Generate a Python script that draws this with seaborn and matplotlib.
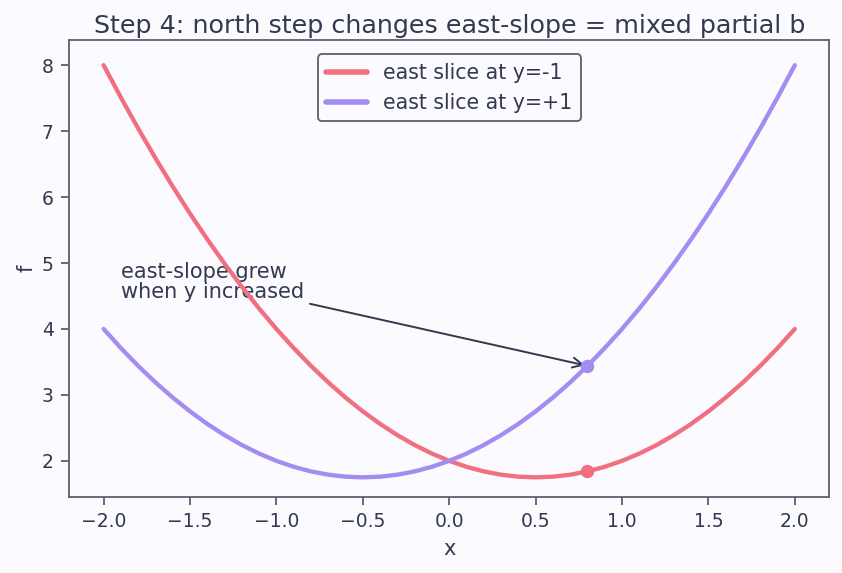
import matplotlib
matplotlib.use("Agg")
import matplotlib.pyplot as plt
import seaborn as sns
import pandas as pd

# values
x_vals = [-2.0, -1.9, -1.8, -1.7, -1.6, -1.5, -1.4, -1.3, -1.2, -1.1, -1.0,
          -0.9, -0.8, -0.7, -0.6, -0.5, -0.4, -0.3, -0.2, -0.1, 0.0,
          0.1, 0.2, 0.3, 0.4, 0.5, 0.6, 0.7, 0.8, 0.9, 1.0,
          1.1, 1.2, 1.3, 1.4, 1.5, 1.6, 1.7, 1.8, 1.9, 2.0]
f_south = [8.00, 7.51, 7.04, 6.59, 6.16, 5.75, 5.36, 4.99, 4.64, 4.31, 4.00,
           3.71, 3.44, 3.19, 2.96, 2.75, 2.56, 2.39, 2.24, 2.11, 2.00,
           1.91, 1.84, 1.79, 1.76, 1.75, 1.76, 1.79, 1.84, 1.91, 2.00,
           2.11, 2.24, 2.39, 2.56, 2.75, 2.96, 3.19, 3.44, 3.71, 4.00]
f_north = [4.00, 3.71, 3.44, 3.19, 2.96, 2.75, 2.56, 2.39, 2.24, 2.11, 2.00,
           1.91, 1.84, 1.79, 1.76, 1.75, 1.76, 1.79, 1.84, 1.91, 2.00,
           2.11, 2.24, 2.39, 2.56, 2.75, 2.96, 3.19, 3.44, 3.71, 4.00,
           4.31, 4.64, 4.99, 5.36, 5.75, 6.16, 6.59, 7.04, 7.51, 8.00]
point_x = 0.8
point_south = 1.84
point_north = 3.44
series_names = ["east slice at y=-1", "east slice at y=+1"]

text_col = "#333a4d"
bg = "#fafaff"
red = "#f07080"
purple = "#a48cf0"

sns.set_theme(style="white")
plt.rcParams["font.family"] = ["DejaVu Sans"]
plt.rcParams["text.color"] = text_col
plt.rcParams["axes.labelcolor"] = text_col
plt.rcParams["xtick.color"] = text_col
plt.rcParams["ytick.color"] = text_col

df = pd.DataFrame({"x": x_vals + x_vals,
                   "f": f_south + f_north,
                   "slice": [series_names[0]] * len(x_vals) + [series_names[1]] * len(x_vals)})

fig, ax = plt.subplots(figsize=(8.42, 5.73), dpi=100)
fig.patch.set_facecolor(bg)
ax.set_facecolor(bg)

sns.lineplot(data=df, x="x", y="f", hue="slice", palette=[red, purple],
             linewidth=3.1, ax=ax, sort=False)
ax.scatter([point_x], [point_south], color=red, s=75, zorder=4)
ax.scatter([point_x], [point_north], color=purple, s=75, zorder=4)

ax.annotate("east-slope grew\nwhen y increased", xy=(point_x, point_north),
            xytext=(-1.9, 4.47), fontsize=15, color=text_col, zorder=1,
            linespacing=1.0,
            arrowprops=dict(arrowstyle="->", color=text_col, lw=1.4,
                            mutation_scale=18))

ax.set_title("Step 4: north step changes east-slope = mixed partial b",
             fontsize=18.3, color=text_col, pad=5)
ax.set_xlabel("x", fontsize=15, labelpad=6)
ax.set_ylabel("f", fontsize=15, labelpad=4)
ax.tick_params(axis="both", labelsize=13.5, length=6, width=1.3, pad=5,
               bottom=True, left=True, color="#5a5f6e")
for sp in ax.spines.values():
    sp.set_color("#5a5f6e")
    sp.set_linewidth(1.3)
ax.set_xlim(-2.2, 2.2)
ax.set_ylim(1.455, 8.38)

leg = ax.legend(loc="upper center", fontsize=14.8, frameon=True, facecolor=bg,
                edgecolor="#5a5f6e", fancybox=True, framealpha=1,
                borderaxespad=0.7)
leg.get_frame().set_linewidth(1.3)
for line in leg.get_lines():
    line.set_linewidth(4)
for t in leg.get_texts():
    t.set_color(text_col)

fig.subplots_adjust(left=0.082, right=0.985, top=0.93, bottom=0.133)
fig.savefig("out.png", dpi=100, facecolor=bg)
